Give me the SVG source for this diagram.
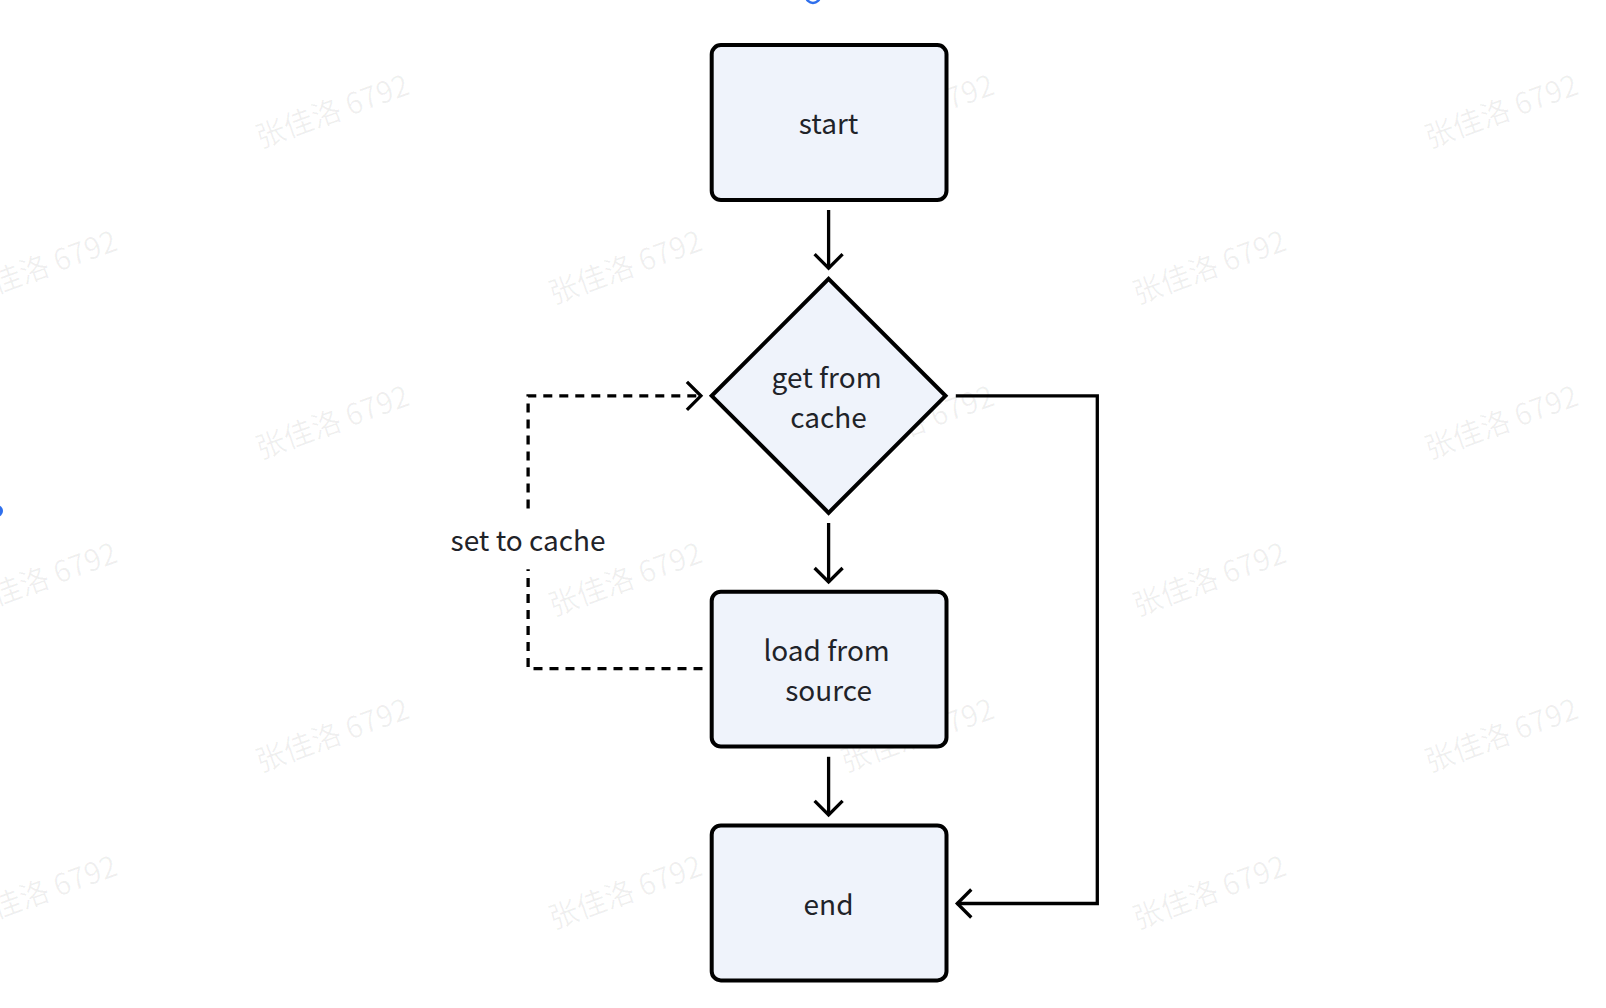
<svg xmlns="http://www.w3.org/2000/svg" width="1606" height="1008" viewBox="0 0 1606 1008">
<defs>
<style>
.node{fill:#eff3fb;stroke:#000;stroke-width:4}
.lbl{font-family:"Noto Sans CJK SC","Noto Sans","Liberation Sans",sans-serif;font-size:28px;fill:#1f2329;text-anchor:middle}
.edge{fill:none;stroke:#000;stroke-width:3.3}
.dash{fill:none;stroke:#000;stroke-width:3.3;stroke-dasharray:9 7}
.wm{font-family:"Noto Sans CJK SC","Liberation Sans",sans-serif;font-size:29.5px;fill:#000;fill-opacity:0.06;text-anchor:middle}
</style>
<marker id="arr" viewBox="0 0 32 32" refX="16.5" refY="16" markerWidth="32" markerHeight="32" markerUnits="userSpaceOnUse" orient="auto">
<path d="M2,2 L16,16 L2,30" fill="none" stroke="#000" stroke-width="3.3"/>
</marker>
</defs>
<rect width="1606" height="1008" fill="#fff"/>
<g id="watermarks">
<text class="wm" transform="translate(336,121) rotate(-20)">张佳洛 6792</text>
<text class="wm" transform="translate(921,121) rotate(-20)">张佳洛 6792</text>
<text class="wm" transform="translate(1505,121) rotate(-20)">张佳洛 6792</text>
<text class="wm" transform="translate(44,277) rotate(-20)">张佳洛 6792</text>
<text class="wm" transform="translate(629,277) rotate(-20)">张佳洛 6792</text>
<text class="wm" transform="translate(1213,277) rotate(-20)">张佳洛 6792</text>
<text class="wm" transform="translate(336,432) rotate(-20)">张佳洛 6792</text>
<text class="wm" transform="translate(921,432) rotate(-20)">张佳洛 6792</text>
<text class="wm" transform="translate(1505,432) rotate(-20)">张佳洛 6792</text>
<text class="wm" transform="translate(44,589) rotate(-20)">张佳洛 6792</text>
<text class="wm" transform="translate(629,589) rotate(-20)">张佳洛 6792</text>
<text class="wm" transform="translate(1213,589) rotate(-20)">张佳洛 6792</text>
<text class="wm" transform="translate(336,745) rotate(-20)">张佳洛 6792</text>
<text class="wm" transform="translate(921,745) rotate(-20)">张佳洛 6792</text>
<text class="wm" transform="translate(1505,745) rotate(-20)">张佳洛 6792</text>
<text class="wm" transform="translate(44,902) rotate(-20)">张佳洛 6792</text>
<text class="wm" transform="translate(629,902) rotate(-20)">张佳洛 6792</text>
<text class="wm" transform="translate(1213,902) rotate(-20)">张佳洛 6792</text>
</g>
<circle cx="813" cy="-4" r="7" fill="none" stroke="#2f6fec" stroke-width="2.5"/>
<circle cx="-3" cy="511" r="6" fill="#2f6fec"/>
<g id="connectors">
<path class="edge" d="M828.6,210 V268.7" marker-end="url(#arr)"/>
<path class="edge" d="M828.6,523 V582.5" marker-end="url(#arr)"/>
<path class="edge" d="M828.6,756.8 V815.3" marker-end="url(#arr)"/>
<path class="edge" d="M955.8,395.8 H1097.3 V903.5 H956.8" marker-end="url(#arr)"/>
<path class="dash" d="M528.1,508.6 V395.8 H701.4" marker-end="url(#arr)"/>
<path class="dash" d="M702.5,668.6 H528.1 V569.2"/>
<text class="lbl" x="528.1" y="550.7">set to cache</text>
</g>
<g id="start">
<rect class="node" x="711.7" y="45.1" width="234.8" height="154.9" rx="9.2"/>
<text class="lbl" x="828.6" y="134.3">start</text>
</g>
<g id="get">
<path class="node" d="M828.6,278.9 L945.5,395.8 L828.6,512.8 L711.7,395.8 Z"/>
<text class="lbl" x="826.6" y="387.6">get from</text>
<text class="lbl" x="828.6" y="427.6">cache</text>
</g>
<g id="load">
<rect class="node" x="711.7" y="591.7" width="234.8" height="154.9" rx="9.2"/>
<text class="lbl" x="826.6" y="661.4">load from</text>
<text class="lbl" x="828.6" y="701.4">source</text>
</g>
<g id="end">
<rect class="node" x="711.7" y="825.5" width="234.8" height="154.9" rx="9.2"/>
<text class="lbl" x="828.6" y="914.8">end</text>
</g>
</svg>
